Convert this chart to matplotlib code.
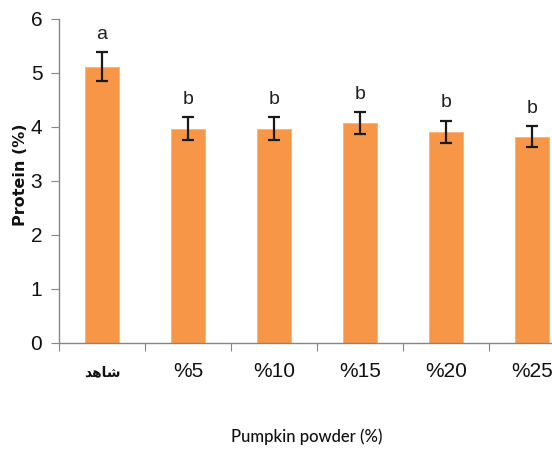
import numpy as np
import matplotlib
matplotlib.use("Agg")
import matplotlib.pyplot as plt

# Protein content per formulation
categories = ["\uFEAA\uFEEB\uFE8E\uFEB7", "%5", "%10", "%15", "%20", "%25"]
protein = [5.12, 3.97, 3.97, 4.07, 3.91, 3.82]
sd = [0.26, 0.21, 0.21, 0.20, 0.20, 0.19]
letters = ["a", "b", "b", "b", "b", "b"]

bar_color = "#F79646"
axis_color = "#868686"
num_font = ["Liberation Sans", "DejaVu Sans"]

fig = plt.figure(figsize=(5.52, 4.49), dpi=100)
ax = fig.add_axes([0.1069, 0.2361, 0.8931, 0.7216])

x = np.arange(len(categories))
ax.bar(x, protein, width=0.4, color=bar_color, edgecolor="#FAB07A", linewidth=0.6, zorder=2)
ax.errorbar(x, protein, yerr=sd, fmt="none", ecolor="#1a1a1a",
            elinewidth=1.6, capsize=4, capthick=1.6, zorder=3)

for xi, v, e, lab in zip(x, protein, sd, letters):
    ax.annotate(lab, (xi, v + e), xytext=(0, 7), textcoords="offset points",
                ha="center", va="bottom", fontsize=14, color="#222222",
                family=num_font)

ax.set_xlim(-0.5, 5.233)
ax.set_ylim(0, 6)
ax.set_yticks(range(0, 7))
ax.set_yticklabels([str(i) for i in range(0, 7)], family=num_font, fontsize=15,
                   color="#111111")

# category boundaries carry the x ticks, names sit under the bars
ax.set_xticks(np.arange(-0.5, 5.5, 1.0))
ax.set_xticklabels([])
for i, (xi, cat) in enumerate(zip(x, categories)):
    if i == 0:
        ax.text(xi, -0.089, cat, transform=ax.get_xaxis_transform(),
                ha="center", va="center", fontsize=10, fontweight="bold",
                family=["DejaVu Sans"], color="#111111")
    else:
        ax.text(xi, -0.089, cat, transform=ax.get_xaxis_transform(),
                ha="center", va="center", fontsize=15, family=num_font,
                color="#111111")

ax.tick_params(axis="x", which="major", length=6, color=axis_color)
ax.tick_params(axis="y", length=6, color=axis_color, pad=6)

for side in ["top", "right"]:
    ax.spines[side].set_visible(False)
for side in ["left", "bottom"]:
    ax.spines[side].set_color(axis_color)
    ax.spines[side].set_linewidth(1.0)

fig.text(0.037, 0.61, "Protein (%)", rotation=90, ha="center", va="center",
         fontsize=11.5, fontweight="bold", family=["DejaVu Sans"], color="#111111")
fig.text(0.555, 0.027, "Pumpkin powder (%)", ha="center", va="center",
         fontsize=12, fontweight="medium", family=["Lato", "DejaVu Sans"],
         color="#111111")

fig.savefig("out.png", dpi=100)
